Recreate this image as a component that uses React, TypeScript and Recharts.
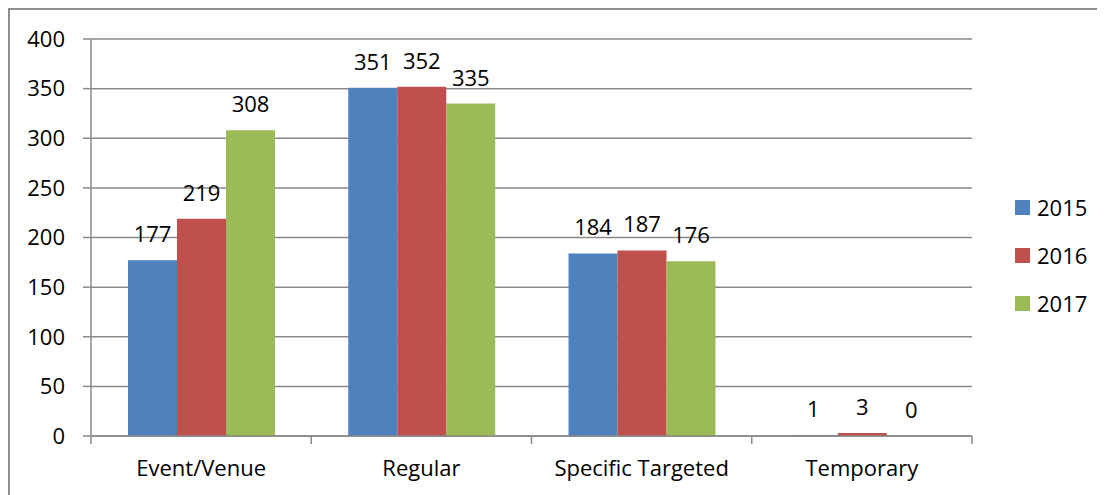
import React from "react";
import { BarChart, Bar, XAxis, YAxis, CartesianGrid, Legend, LabelList } from "recharts";

const categories = ["Event/Venue", "Regular", "Specific Targeted", "Temporary"];
const values2015 = [177, 351, 184, 1];
const values2016 = [219, 352, 187, 3];
const values2017 = [308, 335, 176, 0];
const yTicks = [0, 50, 100, 150, 200, 250, 300, 350, 400];

const series = [
  { key: "y2015", name: "2015", color: "#4f81bd" },
  { key: "y2016", name: "2016", color: "#c0504d" },
  { key: "y2017", name: "2017", color: "#9bbb59" },
];

const data = categories.map((c, i) => ({
  name: c,
  y2015: values2015[i],
  y2016: values2016[i],
  y2017: values2017[i],
}));

const FONT = "'Open Sans', sans-serif";
const GRID = "#8a8a8a";

// ticks sit on the category boundaries, labels in the middle
function CategoryTick(props: any) {
  const { x, y, payload, index } = props;
  const half = payload && payload.offset ? payload.offset : 110;
  const axisY = y - 8;
  return (
    <g>
      <line x1={x - half} y1={axisY} x2={x - half} y2={axisY + 8} stroke={GRID} strokeWidth={1.5} />
      {index === categories.length - 1 && (
        <line x1={x + half} y1={axisY} x2={x + half} y2={axisY + 8} stroke={GRID} strokeWidth={1.5} />
      )}
      <text x={x} y={axisY + 40} textAnchor="middle" fill="#000" fontSize={22} fontFamily={FONT}>
        {payload.value}
      </text>
    </g>
  );
}

function LegendBox(props: any) {
  const { payload } = props;
  return (
    <div style={{ fontFamily: FONT, fontSize: 22, color: "#000" }}>
      {(payload || []).map((p: any) => (
        <div key={p.value} style={{ display: "flex", alignItems: "center", height: 48 }}>
          <span style={{ width: 15, height: 15, background: p.color, display: "inline-block", marginRight: 7 }} />
          <span style={{ lineHeight: "22px" }}>{p.value}</span>
        </div>
      ))}
    </div>
  );
}

export default function App() {
  return (
    <div
      style={{
        width: 1097,
        height: 487,
        borderTop: "2px solid #8e8e8e",
        borderLeft: "2px solid #8e8e8e",
        boxSizing: "border-box",
        position: "relative",
        background: "#fff",
      }}
    >
      <style>{`html, body { overflow: hidden; }`}</style>
      <BarChart
        width={1095}
        height={485}
        data={data}
        margin={{ top: 29, right: 133, bottom: 0, left: 0 }}
        barCategoryGap="16.8%"
        barGap={0}
      >
        <CartesianGrid vertical={false} stroke={GRID} strokeWidth={1.5} />
        <XAxis
          dataKey="name"
          height={59}
          axisLine={{ stroke: GRID, strokeWidth: 1.5 }}
          tickLine={false}
          interval={0}
          tick={<CategoryTick />}
        />
        <YAxis
          width={81}
          domain={[0, 400]}
          ticks={yTicks}
          interval={0}
          axisLine={{ stroke: GRID, strokeWidth: 1.5 }}
          tickLine={{ stroke: GRID, strokeWidth: 1.5 }}
          tickSize={8}
          tickMargin={18}
          tick={{ fill: "#000", fontSize: 22, fontFamily: FONT }}
        />
        <Legend
          layout="vertical"
          align="center"
          verticalAlign="middle"
          wrapperStyle={{ left: 1005, top: 173, width: 90 }}
          content={<LegendBox />}
        />
        {series.map((s) => (
          <Bar
            key={s.key}
            dataKey={s.key}
            name={s.name}
            fill={s.color}
            minPointSize={(v: any) => (v === 0 ? 0.01 : 0)}
            isAnimationActive={false}
          >
            <LabelList dataKey={s.key} position="top" offset={18} fill="#000" fontSize={22} fontFamily={FONT} />
          </Bar>
        ))}
      </BarChart>
    </div>
  );
}
